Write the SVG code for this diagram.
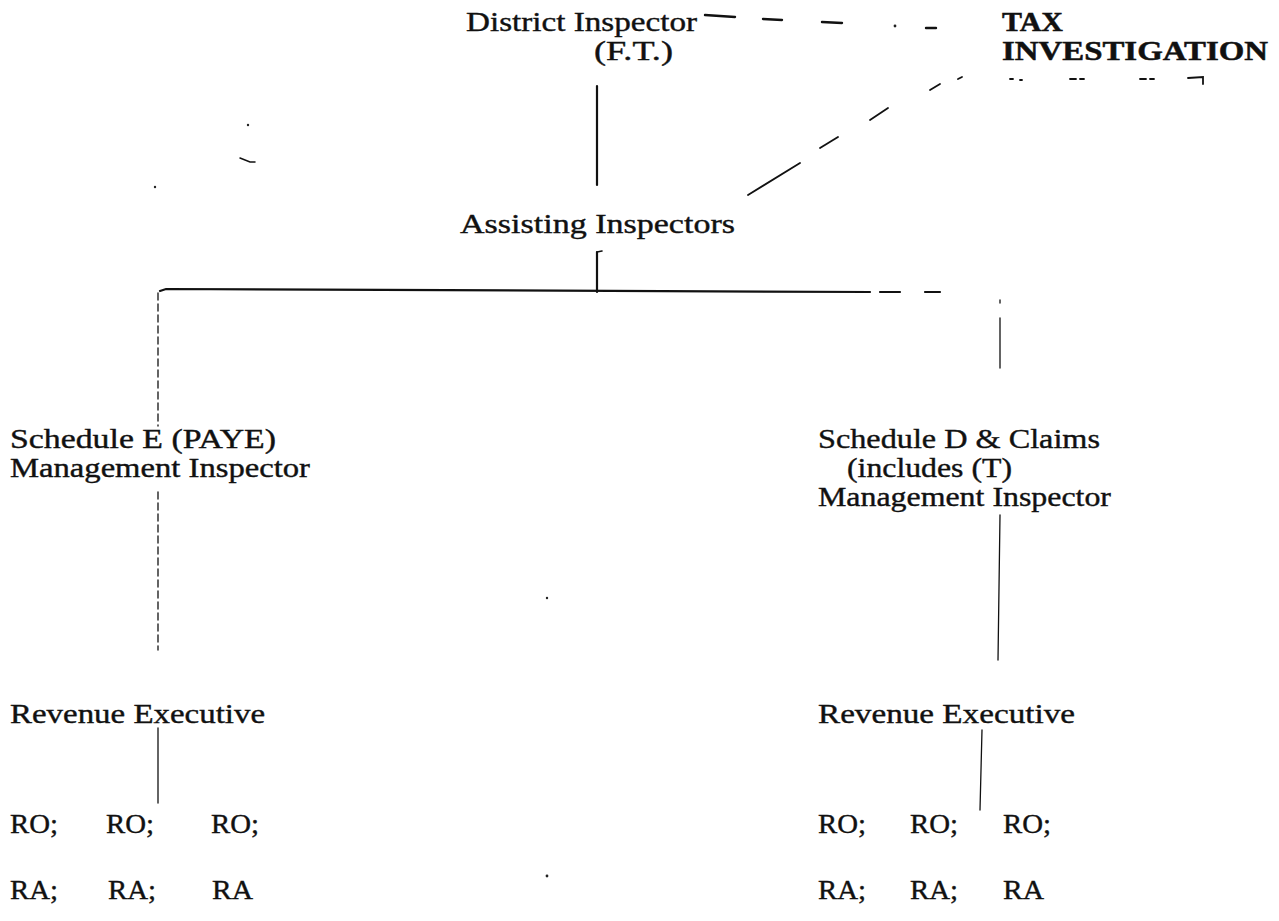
<svg xmlns="http://www.w3.org/2000/svg" width="1279" height="921" viewBox="0 0 1279 921">
<style>
text{font-family:"Liberation Serif","Times New Roman",serif;font-size:28px;fill:#111;stroke:#111;stroke-width:0.4}
.b{font-weight:bold;font-size:28px;stroke-width:0.5}
.c{stroke:#111;fill:none;stroke-linecap:round}
.thick{stroke-width:2.2}
.thin{stroke-width:1.3}
.dash{stroke-width:1.3;stroke-dasharray:7 4}
.mark{fill:#222}
</style>
<rect width="1279" height="921" fill="#fff"/>
<g id="connectors">
  <path class="c thick" d="M597 86 V185"/>
  <g class="c" stroke-width="2.4">
    <path d="M705 15 L735 17"/>
    <path d="M763 19 L782 20"/>
    <path d="M822 22 L842 23"/>
    <path d="M926 28 L936 28"/>
  </g>
  <circle class="mark" cx="895" cy="26" r="1.4"/>
  <g class="c" stroke-width="1.8">
    <path d="M748 195 L800 163"/>
    <path d="M820 148 L838 137"/>
    <path d="M870 120 L888 108"/>
    <path d="M930 90 L940 84"/>
    <path d="M958 79 L962 77"/>
  </g>
  <g class="c" stroke-width="1.8">
    <path d="M1010 79 L1013 79"/>
    <path d="M1020 80 L1022 80"/>
    <path d="M1070 79 L1076 79"/>
    <path d="M1080 79 L1084 79"/>
    <path d="M1140 79 L1146 79"/>
    <path d="M1150 79 L1154 79"/>
    <path d="M1188 78 L1203 77 L1203 84"/>
  </g>
  <path class="c thick" d="M597 252 V292"/>
  <path class="c" stroke-width="1.6" d="M597 252 L602 251"/>
  <path class="c thick" d="M160 291 L166 289 L870 292"/>
  <path class="c thick" d="M880 292 L900 292 M925 292 L940 292"/>
  <path class="c dash" d="M158 293 V426"/>
  <path class="c dash" d="M158 492 V650"/>
  <path class="c thin" d="M158 728 V803"/>
  <path class="c thin" d="M1000 300 V303 M1000 318 V368"/>
  <path class="c thin" d="M1000 515 L998 660"/>
  <path class="c thin" d="M982 730 L980 810"/>
  <circle class="mark" cx="248" cy="125" r="1.2"/>
  <path class="c" stroke-width="1.5" d="M240 158 L250 162 L255 162"/>
  <circle class="mark" cx="155" cy="187" r="1.2"/>
  <circle class="mark" cx="547" cy="598" r="1.2"/>
  <circle class="mark" cx="547" cy="876" r="1.4"/>
</g>
<g id="district-inspector">
  <text x="466" y="31" textLength="231" lengthAdjust="spacingAndGlyphs">District Inspector</text>
  <text x="594" y="60" textLength="79" lengthAdjust="spacingAndGlyphs">(F.T.)</text>
</g>
<g id="tax-investigation">
  <text class="b" x="1002" y="31" textLength="61" lengthAdjust="spacingAndGlyphs">TAX</text>
  <text class="b" x="1002" y="60" textLength="266" lengthAdjust="spacingAndGlyphs">INVESTIGATION</text>
</g>
<g id="assisting-inspectors">
  <text x="460" y="233" textLength="275" lengthAdjust="spacingAndGlyphs">Assisting Inspectors</text>
</g>
<g id="schedule-e">
  <text x="10" y="448" textLength="266" lengthAdjust="spacingAndGlyphs">Schedule E (PAYE)</text>
  <text x="10" y="477" textLength="300" lengthAdjust="spacingAndGlyphs">Management Inspector</text>
</g>
<g id="schedule-d">
  <text x="818" y="448" textLength="282" lengthAdjust="spacingAndGlyphs">Schedule D &amp; Claims</text>
  <text x="847" y="477" textLength="165" lengthAdjust="spacingAndGlyphs">(includes (T)</text>
  <text x="818" y="506" textLength="293" lengthAdjust="spacingAndGlyphs">Management Inspector</text>
</g>
<g id="revenue-exec-left">
  <text x="10" y="723" textLength="255" lengthAdjust="spacingAndGlyphs">Revenue Executive</text>
</g>
<g id="revenue-exec-right">
  <text x="818" y="723" textLength="257" lengthAdjust="spacingAndGlyphs">Revenue Executive</text>
</g>
<g id="staff-left">
  <text x="10" y="833" textLength="48" lengthAdjust="spacingAndGlyphs">RO;</text>
  <text x="106" y="833" textLength="48" lengthAdjust="spacingAndGlyphs">RO;</text>
  <text x="211" y="833" textLength="48" lengthAdjust="spacingAndGlyphs">RO;</text>
  <text x="10" y="899" textLength="48" lengthAdjust="spacingAndGlyphs">RA;</text>
  <text x="108" y="899" textLength="48" lengthAdjust="spacingAndGlyphs">RA;</text>
  <text x="212" y="899" textLength="41" lengthAdjust="spacingAndGlyphs">RA</text>
</g>
<g id="staff-right">
  <text x="818" y="833" textLength="48" lengthAdjust="spacingAndGlyphs">RO;</text>
  <text x="910" y="833" textLength="48" lengthAdjust="spacingAndGlyphs">RO;</text>
  <text x="1003" y="833" textLength="48" lengthAdjust="spacingAndGlyphs">RO;</text>
  <text x="818" y="899" textLength="48" lengthAdjust="spacingAndGlyphs">RA;</text>
  <text x="910" y="899" textLength="48" lengthAdjust="spacingAndGlyphs">RA;</text>
  <text x="1003" y="899" textLength="41" lengthAdjust="spacingAndGlyphs">RA</text>
</g>
</svg>
